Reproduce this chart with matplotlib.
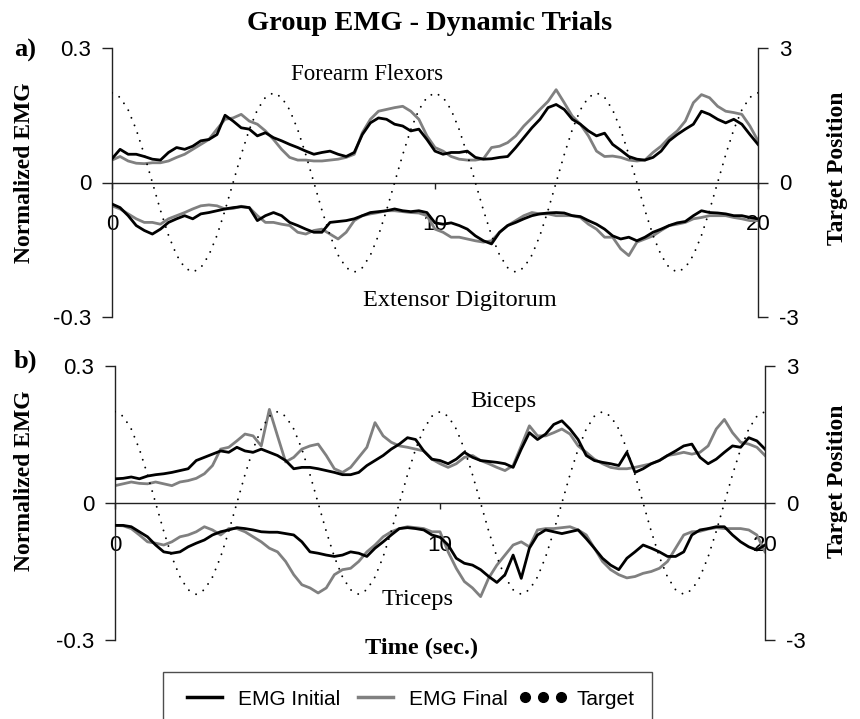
import matplotlib
matplotlib.use("Agg")
import matplotlib.pyplot as plt
import numpy as np
from matplotlib.lines import Line2D

SANS = "Liberation Sans"
SERIF = "Liberation Serif"

# ---------------- data (sampled every 0.25 s, 0..20 s) ----------------
TIME = np.linspace(0, 20, 81)

TARGET = [
    2.00, 1.90, 1.62, 1.18, 0.62, 0.00, -0.62, -1.18, -1.62, -1.90,
    -2.00, -1.90, -1.62, -1.18, -0.62, 0.00, 0.62, 1.18, 1.62, 1.90,
    2.00, 1.90, 1.62, 1.18, 0.62, 0.00, -0.62, -1.18, -1.62, -1.90,
    -2.00, -1.90, -1.62, -1.18, -0.62, 0.00, 0.62, 1.18, 1.62, 1.90,
    2.00, 1.90, 1.62, 1.18, 0.62, 0.00, -0.62, -1.18, -1.62, -1.90,
    -2.00, -1.90, -1.62, -1.18, -0.62, 0.00, 0.62, 1.18, 1.62, 1.90,
    2.00, 1.90, 1.62, 1.18, 0.62, 0.00, -0.62, -1.18, -1.62, -1.90,
    -2.00, -1.90, -1.62, -1.18, -0.62, 0.00, 0.62, 1.18, 1.62, 1.90,
    2.00,
]

# Panel a) Forearm Flexors
FLEX_INIT = [
    0.053, 0.074, 0.063, 0.063, 0.058, 0.052, 0.050, 0.067,
    0.078, 0.074, 0.081, 0.093, 0.096, 0.107, 0.150, 0.137,
    0.122, 0.119, 0.104, 0.111, 0.100, 0.093, 0.085, 0.078,
    0.070, 0.063, 0.067, 0.070, 0.063, 0.058, 0.067, 0.107,
    0.133, 0.144, 0.141, 0.130, 0.126, 0.115, 0.119, 0.096,
    0.070, 0.063, 0.067, 0.067, 0.070, 0.056, 0.052, 0.053,
    0.056, 0.058, 0.078, 0.100, 0.122, 0.141, 0.167, 0.174,
    0.163, 0.141, 0.130, 0.115, 0.104, 0.110, 0.085, 0.072,
    0.058, 0.052, 0.050, 0.056, 0.070, 0.093, 0.107, 0.119,
    0.130, 0.159, 0.152, 0.141, 0.133, 0.141, 0.130, 0.107,
    0.085,
]
FLEX_FINAL = [
    0.050, 0.058, 0.048, 0.043, 0.042, 0.044, 0.044, 0.048,
    0.056, 0.063, 0.074, 0.085, 0.096, 0.119, 0.141, 0.144,
    0.152, 0.137, 0.130, 0.115, 0.096, 0.074, 0.056, 0.050,
    0.050, 0.048, 0.048, 0.050, 0.052, 0.056, 0.063, 0.111,
    0.141, 0.159, 0.163, 0.167, 0.170, 0.159, 0.141, 0.104,
    0.078, 0.070, 0.058, 0.052, 0.050, 0.050, 0.053, 0.078,
    0.081, 0.089, 0.104, 0.126, 0.144, 0.163, 0.181, 0.207,
    0.178, 0.148, 0.130, 0.104, 0.070, 0.058, 0.059, 0.056,
    0.050, 0.048, 0.050, 0.067, 0.081, 0.100, 0.115, 0.137,
    0.178, 0.196, 0.189, 0.170, 0.159, 0.156, 0.152, 0.126,
    0.093,
]
# Panel a) Extensor Digitorum
EXT_INIT = [
    -0.048, -0.056, -0.074, -0.096, -0.107, -0.115, -0.104, -0.089,
    -0.081, -0.074, -0.081, -0.070, -0.067, -0.063, -0.059, -0.056,
    -0.054, -0.056, -0.085, -0.074, -0.067, -0.074, -0.089, -0.096,
    -0.104, -0.111, -0.111, -0.089, -0.087, -0.085, -0.081, -0.074,
    -0.067, -0.065, -0.063, -0.059, -0.063, -0.065, -0.063, -0.067,
    -0.090, -0.093, -0.090, -0.096, -0.104, -0.119, -0.130, -0.137,
    -0.111, -0.096, -0.089, -0.081, -0.074, -0.070, -0.068, -0.067,
    -0.068, -0.074, -0.076, -0.085, -0.093, -0.104, -0.119, -0.126,
    -0.122, -0.130, -0.122, -0.111, -0.104, -0.096, -0.090, -0.087,
    -0.074, -0.063, -0.067, -0.068, -0.070, -0.074, -0.074, -0.078,
    -0.081,
]
EXT_FINAL = [
    -0.052, -0.059, -0.070, -0.081, -0.089, -0.089, -0.093, -0.081,
    -0.074, -0.067, -0.059, -0.052, -0.050, -0.052, -0.059, -0.058,
    -0.053, -0.056, -0.074, -0.089, -0.089, -0.093, -0.096, -0.111,
    -0.115, -0.107, -0.104, -0.115, -0.126, -0.111, -0.085, -0.074,
    -0.070, -0.067, -0.063, -0.063, -0.065, -0.067, -0.068, -0.074,
    -0.104, -0.111, -0.122, -0.122, -0.126, -0.130, -0.133, -0.130,
    -0.111, -0.096, -0.085, -0.074, -0.067, -0.070, -0.070, -0.074,
    -0.074, -0.074, -0.078, -0.093, -0.104, -0.122, -0.122, -0.148,
    -0.163, -0.133, -0.126, -0.119, -0.107, -0.096, -0.093, -0.089,
    -0.081, -0.078, -0.074, -0.074, -0.074, -0.078, -0.081, -0.085,
    -0.085,
]
# Panel b) Biceps
BIC_INIT = [
    0.053, 0.054, 0.057, 0.053, 0.059, 0.062, 0.064, 0.067,
    0.071, 0.075, 0.093, 0.100, 0.107, 0.114, 0.111, 0.122,
    0.114, 0.111, 0.118, 0.111, 0.104, 0.093, 0.075, 0.078,
    0.078, 0.075, 0.071, 0.067, 0.062, 0.062, 0.067, 0.082,
    0.093, 0.104, 0.118, 0.129, 0.143, 0.139, 0.114, 0.096,
    0.093, 0.086, 0.096, 0.111, 0.100, 0.093, 0.091, 0.089,
    0.086, 0.078, 0.118, 0.154, 0.139, 0.151, 0.172, 0.180,
    0.162, 0.139, 0.104, 0.093, 0.089, 0.086, 0.082, 0.111,
    0.067, 0.075, 0.086, 0.093, 0.104, 0.114, 0.125, 0.129,
    0.100, 0.086, 0.096, 0.111, 0.125, 0.122, 0.143, 0.136,
    0.118,
]
BIC_FINAL = [
    0.038, 0.042, 0.046, 0.043, 0.042, 0.046, 0.042, 0.038,
    0.046, 0.049, 0.054, 0.064, 0.082, 0.118, 0.122, 0.136,
    0.151, 0.147, 0.125, 0.205, 0.147, 0.090, 0.100, 0.118,
    0.125, 0.129, 0.104, 0.075, 0.067, 0.078, 0.100, 0.122,
    0.176, 0.147, 0.133, 0.125, 0.122, 0.118, 0.114, 0.096,
    0.086, 0.078, 0.086, 0.100, 0.104, 0.093, 0.086, 0.078,
    0.071, 0.082, 0.125, 0.169, 0.147, 0.147, 0.154, 0.162,
    0.151, 0.125, 0.111, 0.096, 0.086, 0.078, 0.075, 0.075,
    0.078, 0.082, 0.086, 0.093, 0.104, 0.107, 0.111, 0.107,
    0.111, 0.125, 0.162, 0.183, 0.154, 0.133, 0.129, 0.122,
    0.104,
]
# Panel b) Triceps
TRI_INIT = [
    -0.049, -0.049, -0.052, -0.063, -0.074, -0.092, -0.107, -0.110,
    -0.107, -0.096, -0.088, -0.081, -0.070, -0.063, -0.059, -0.054,
    -0.056, -0.059, -0.063, -0.064, -0.064, -0.067, -0.070, -0.085,
    -0.107, -0.110, -0.114, -0.117, -0.114, -0.107, -0.110, -0.117,
    -0.099, -0.085, -0.070, -0.056, -0.054, -0.056, -0.059, -0.070,
    -0.075, -0.092, -0.121, -0.132, -0.136, -0.146, -0.161, -0.174,
    -0.157, -0.114, -0.165, -0.099, -0.070, -0.059, -0.063, -0.067,
    -0.063, -0.059, -0.078, -0.099, -0.121, -0.136, -0.146, -0.121,
    -0.107, -0.092, -0.099, -0.107, -0.117, -0.117, -0.107, -0.070,
    -0.059, -0.056, -0.052, -0.052, -0.070, -0.085, -0.096, -0.103,
    -0.092,
]
TRI_FINAL = [
    -0.049, -0.050, -0.056, -0.070, -0.085, -0.088, -0.092, -0.085,
    -0.074, -0.070, -0.063, -0.052, -0.059, -0.070, -0.056, -0.056,
    -0.063, -0.074, -0.085, -0.099, -0.107, -0.128, -0.157, -0.179,
    -0.186, -0.197, -0.186, -0.157, -0.146, -0.143, -0.128, -0.107,
    -0.092, -0.074, -0.063, -0.056, -0.052, -0.054, -0.056, -0.063,
    -0.063, -0.107, -0.143, -0.172, -0.186, -0.205, -0.164, -0.136,
    -0.114, -0.092, -0.085, -0.096, -0.059, -0.056, -0.056, -0.054,
    -0.052, -0.059, -0.070, -0.099, -0.128, -0.146, -0.157, -0.164,
    -0.161, -0.154, -0.150, -0.143, -0.128, -0.099, -0.070, -0.063,
    -0.062, -0.057, -0.054, -0.056, -0.056, -0.056, -0.059, -0.070,
    -0.107,
]

X_TICKS = [0, 10, 20]
X_TICK_LABELS = ["0", "10", "20"]
Y_TICKS = [-0.3, 0, 0.3]
Y_TICK_LABELS = ["-0.3", "0", "0.3"]
Y2_TICKS = [-3, 0, 3]
Y2_TICK_LABELS = ["-3", "0", "3"]

INIT_COLOR = "#000000"
FINAL_COLOR = "#808080"
AXIS_COLOR = "#222222"

W, H = 860, 719
fig = plt.figure(figsize=(W / 100, H / 100), dpi=100)


def px(x, y):
    return x / W, 1 - y / H


def panel(left, top, right, bottom, up_i, up_f, dn_i, dn_f):
    rect = [left / W, 1 - bottom / H, (right - left) / W, (bottom - top) / H]
    ax = fig.add_axes(rect)
    ax.plot(TIME, up_f, color=FINAL_COLOR, lw=2.0, zorder=2)
    ax.plot(TIME, up_i, color=INIT_COLOR, lw=2.0, zorder=3)
    ax.plot(TIME, dn_f, color=FINAL_COLOR, lw=2.0, zorder=2)
    ax.plot(TIME, dn_i, color=INIT_COLOR, lw=2.0, zorder=3)
    ax.set_xlim(0, 20)
    ax.set_ylim(-0.3, 0.3)
    ax.spines["top"].set_visible(False)
    ax.spines["right"].set_visible(False)
    ax.spines["bottom"].set_position(("data", 0))
    for s in ("left", "bottom"):
        ax.spines[s].set_color(AXIS_COLOR)
        ax.spines[s].set_linewidth(1.0)
    ax.set_xticks(X_TICKS)
    ax.set_xticklabels(X_TICK_LABELS, fontfamily=SANS)
    ax.tick_params(axis="x", direction="out", length=4, width=1.0,
                   pad=19, labelsize=16, color=AXIS_COLOR)
    ax.set_yticks(Y_TICKS)
    ax.set_yticklabels(Y_TICK_LABELS, fontfamily=SANS)
    ax.tick_params(axis="y", direction="out", length=7, width=1.0,
                   pad=8, labelsize=16, color=AXIS_COLOR)
    ax.patch.set_alpha(0)

    ax2 = ax.twinx()
    ax2.plot(TIME, TARGET, color="black", lw=1.4,
             linestyle=(0, (0.01, 4.2)), dash_capstyle="round")
    ax2.set_ylim(-3, 3)
    for s in ("top", "bottom", "left"):
        ax2.spines[s].set_visible(False)
    ax2.spines["right"].set_color(AXIS_COLOR)
    ax2.spines["right"].set_linewidth(1.0)
    ax2.set_yticks(Y2_TICKS)
    ax2.set_yticklabels(Y2_TICK_LABELS, fontfamily=SANS)
    ax2.tick_params(axis="y", direction="out", length=7, width=1.0,
                    pad=8, labelsize=16, color=AXIS_COLOR)
    return ax, ax2


panel(112, 48, 758, 317, FLEX_INIT, FLEX_FINAL, EXT_INIT, EXT_FINAL)
panel(115, 366, 765, 640, BIC_INIT, BIC_FINAL, TRI_INIT, TRI_FINAL)

# Titles and labels
fig.text(*px(430, 30), "Group EMG - Dynamic Trials", ha="center", va="baseline",
         fontfamily=SERIF, fontweight="bold", fontsize=20.5)
fig.text(*px(14, 57), "a)", ha="left", va="baseline",
         fontfamily=SERIF, fontweight="bold", fontsize=19)
fig.text(*px(14, 368), "b)", ha="left", va="baseline",
         fontfamily=SERIF, fontweight="bold", fontsize=19)

for yc in (173, 481):
    fig.text(*px(25, yc), "Normalized EMG", rotation=90, ha="center", va="center",
             fontfamily=SERIF, fontweight="bold", fontsize=17)
for yc in (168, 481):
    fig.text(*px(837, yc), "Target Position", rotation=90, ha="center", va="center",
             fontfamily=SERIF, fontweight="bold", fontsize=17)

fig.text(*px(367, 80), "Forearm Flexors", ha="center", va="baseline",
         fontfamily=SERIF, fontsize=16.5)
fig.text(*px(460, 306), "Extensor Digitorum", ha="center", va="baseline",
         fontfamily=SERIF, fontsize=17.5)
fig.text(*px(503, 407), "Biceps", ha="center", va="baseline",
         fontfamily=SERIF, fontsize=17.5)
fig.text(*px(418, 605), "Triceps", ha="center", va="baseline",
         fontfamily=SERIF, fontsize=17.5)
fig.text(*px(422, 654), "Time (sec.)", ha="center", va="baseline",
         fontfamily=SERIF, fontweight="bold", fontsize=17.5)

# Legend
handles = [
    Line2D([], [], color=INIT_COLOR, lw=2.5),
    Line2D([], [], color=FINAL_COLOR, lw=2.5),
    Line2D([], [], color="black", marker="o", linestyle="None", markersize=7),
]
leg = fig.legend(handles, ["EMG Initial", "EMG Final", "Target"],
                 loc="upper left", bbox_to_anchor=px(163, 672), ncol=3,
                 numpoints=3, frameon=True, fancybox=False, shadow=False,
                 prop={"family": SANS, "size": 15}, handlelength=2.3,
                 handletextpad=0.45, columnspacing=0.55, borderpad=0.85,
                 borderaxespad=0.0)
leg.get_frame().set_edgecolor("#222222")
leg.get_frame().set_linewidth(1.0)

fig.savefig("out.png", dpi=100)
